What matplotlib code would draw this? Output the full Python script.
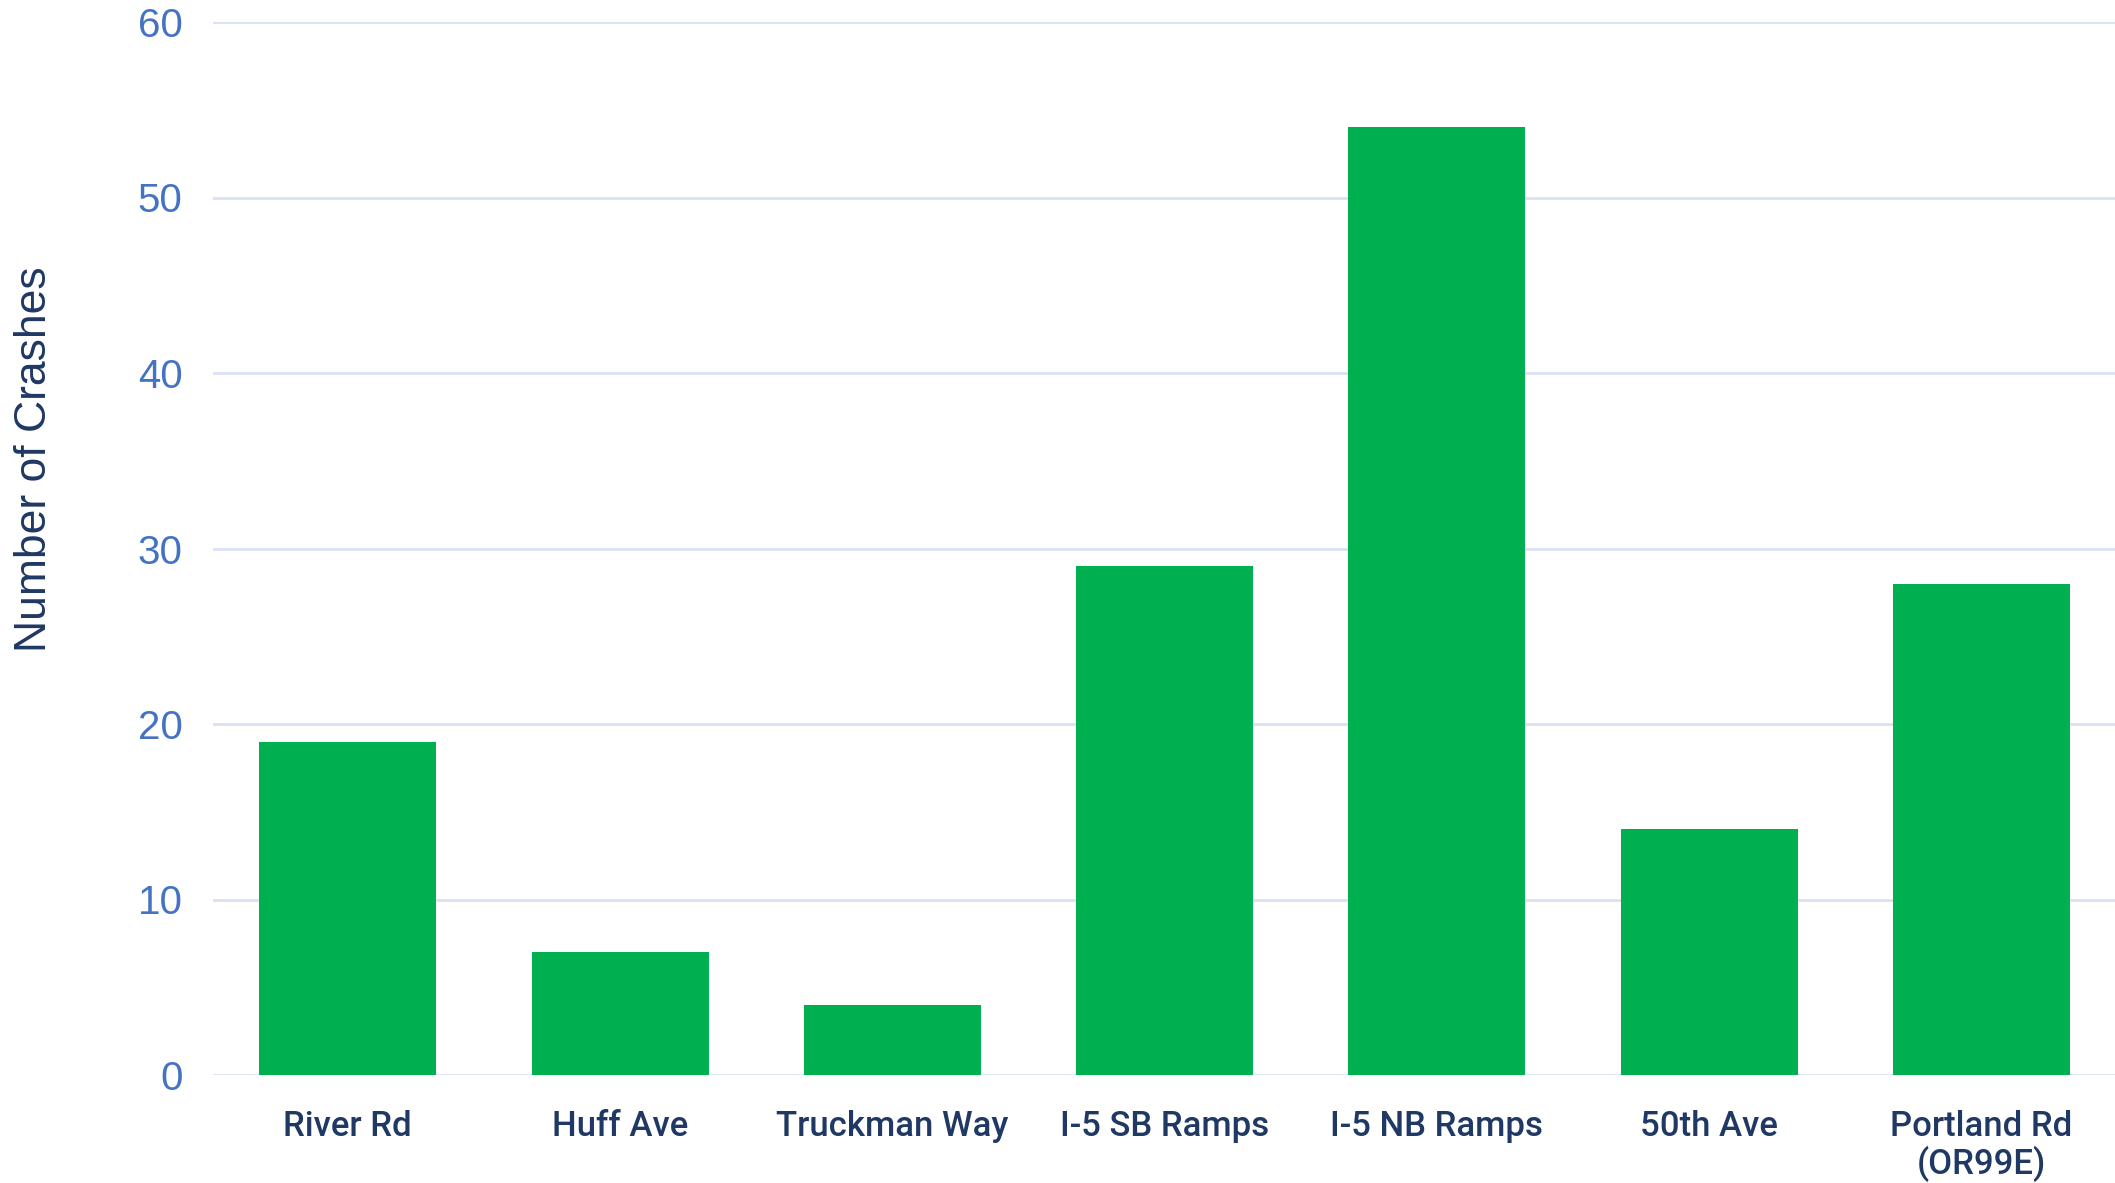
import matplotlib.pyplot as plt

# dane
locations = ["River Rd", "Huff Ave", "Truckman Way", "I-5 SB Ramps",
             "I-5 NB Ramps", "50th Ave", "Portland Rd\n(OR99E)"]
crashes = [19, 7, 4, 29, 54, 14, 28]
yTicks = [0, 10, 20, 30, 40, 50, 60]

fig = plt.figure(figsize=(21.15, 11.83), dpi=100)
ax = fig.add_axes([213 / 2115, 1 - 1075 / 1183, 1 - 213 / 2115, (1075 - 22) / 1183])

ax.bar(range(len(locations)), crashes, width=0.65, color="#00B050", zorder=3)

ax.set_xlim(-0.495, 6.49)
ax.set_ylim(0, 60)
ax.set_yticks(yTicks)
ax.set_yticklabels([str(t) for t in yTicks], fontsize=29, color="#4472C4",
                   fontfamily="Liberation Sans")
ax.set_xticks(range(len(locations)))
ax.set_xticklabels(locations, fontsize=25, color="#1F3864", fontfamily="Roboto",
                   fontweight="medium", va="top", linespacing=1.1)

ax.tick_params(axis="both", length=0)
ax.tick_params(axis="y", pad=22)
ax.tick_params(axis="x", pad=25)
ax.grid(axis="y", color="#D9E2F3", linewidth=2, zorder=0)
for s in ax.spines.values():
    s.set_visible(False)

fig.text(35 / 2115, 1 - 459 / 1183, "Number of Crashes", rotation=90,
         fontsize=32, color="#1F3864", fontfamily="Liberation Sans",
         ha="center", va="center")

fig.savefig("out.png", dpi=100)
